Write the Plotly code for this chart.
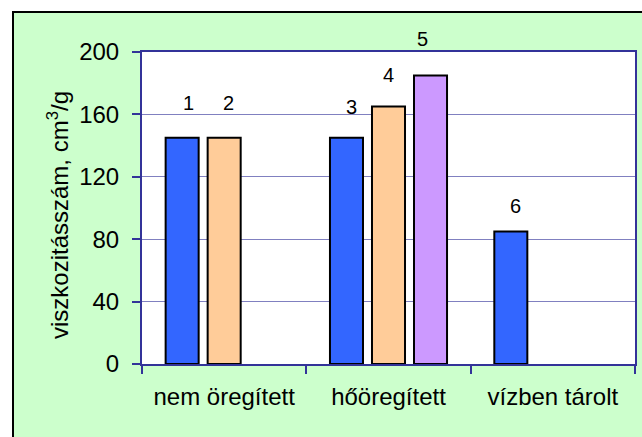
import plotly.graph_objects as go

categories = ["nem öregített", "hőöregített", "vízben tárolt"]
series1 = [145, 145, 85]
series2 = [145, 165, None]
series3 = [None, 185, None]
bar_labels = ["1", "2", "3", "4", "5", "6"]
y_ticks = [0, 40, 80, 120, 160, 200]
y_title = "viszkozitásszám, cm<sup>3</sup>/g"

colors = ["#3366FF", "#FFCC99", "#CC99FF"]
AXIS = "#333399"
GRID = "#8080C0"
FONT = "Liberation Sans, Arial, sans-serif"

fig = go.Figure()
for vals, col in zip([series1, series2, series3], colors):
    fig.add_trace(go.Bar(x=categories, y=vals, marker=dict(color=col, line=dict(color="black", width=2)),
                         showlegend=False, hoverinfo="skip"))

# label placement: (category index, slot, value) + pixel offsets
label_specs = [
    (0, 0, series1[0], 6, 35),
    (0, 1, series2[0], 4, 35),
    (1, 0, series1[1], 5, 31),
    (1, 1, series2[1], 0, 32),
    (1, 2, series3[1], -8, 36),
    (2, 0, series1[2], 5, 25),
]
SLOT = 42
for txt, (ci, slot, val, dx, dy) in zip(bar_labels, label_specs):
    fig.add_annotation(x=categories[ci], y=val, xref="x", yref="y", text=txt, showarrow=False,
                       xshift=(slot - 1) * SLOT + dx, yshift=dy, yanchor="middle",
                       font=dict(family=FONT, size=20, color="black"))

W, H = 642, 437
L, R, T, B = 142, 7, 52, 73
pw, ph = W - L - R, H - T - B

def px_x(p):
    return (p - L) / pw

def px_y(p):
    return (H - B - p) / ph

fig.add_annotation(x=px_x(58), y=px_y(215), xref="paper", yref="paper", text=y_title, showarrow=False,
                   textangle=-90, xanchor="center", yanchor="middle",
                   font=dict(family=FONT, size=24, color="black"))

fig.add_shape(type="rect", xref="paper", yref="paper", x0=px_x(13), x1=px_x(650), y0=px_y(445), y1=px_y(12),
              fillcolor="#CCFFCC", line=dict(color="black", width=2), layer="below")
fig.add_shape(type="rect", xref="paper", yref="paper", x0=0, x1=1, y0=0, y1=1,
              fillcolor="white", line=dict(width=0), layer="below")

fig.update_layout(
    width=W, height=H,
    margin=dict(l=L, r=R, t=T, b=B, pad=0, autoexpand=False),
    paper_bgcolor="white", plot_bgcolor="white",
    barmode="group", bargap=0.233, bargroupgap=0.214,
    font=dict(family=FONT, color="black"),
)
fig.update_xaxes(showline=True, linecolor=AXIS, linewidth=2, mirror=True,
                 ticks="outside", tickson="boundaries", ticklen=8, tickwidth=2, tickcolor=AXIS,
                 ticklabelstandoff=10,
                 tickfont=dict(size=24, family=FONT), showgrid=False, fixedrange=True, automargin=False)
fig.update_yaxes(range=[0, 200], tickvals=y_ticks, showline=True, linecolor=AXIS, linewidth=2, mirror=True,
                 ticks="outside", ticklen=8, tickwidth=2, tickcolor=AXIS,
                 ticklabelstandoff=8,
                 showgrid=True, gridcolor=GRID, gridwidth=1, zeroline=False,
                 tickfont=dict(size=24, family=FONT),
                 fixedrange=True, automargin=False)

fig.write_html("out.html", config={"displayModeBar": False},
               post_script="document.body.style.margin='0';document.body.style.overflow='hidden';")
